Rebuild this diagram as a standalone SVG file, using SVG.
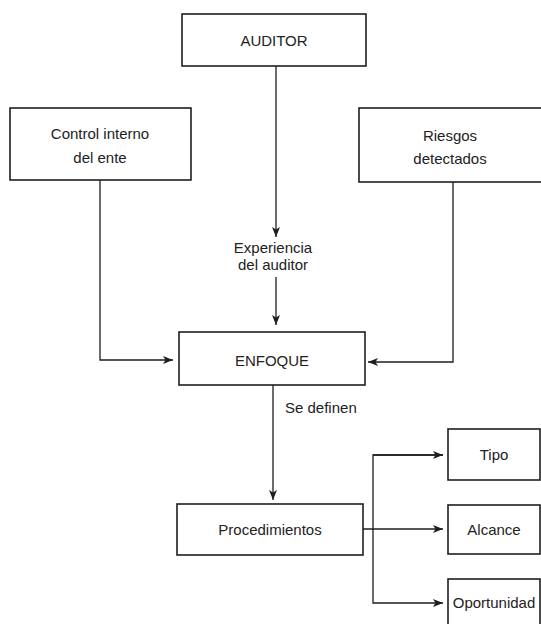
<svg xmlns="http://www.w3.org/2000/svg" width="541" height="624" viewBox="0 0 541 624">
<style>
.box{fill:#fff;stroke:#1e1e1e;stroke-width:1.6}
.t{font-family:"Liberation Sans",Arial,sans-serif;font-size:15px;fill:#222;text-anchor:middle}
.c{fill:none;stroke:#1e1e1e;stroke-width:1.3}
</style>
<defs>
<marker id="ah" markerUnits="userSpaceOnUse" markerWidth="10" markerHeight="8" refX="10" refY="4" orient="auto">
<path d="M0,0 L10,4 L0,8 L2.5,4 z" fill="#1e1e1e"/>
</marker>
</defs>
<rect width="541" height="624" fill="#fff"/>
<g id="connectors">
<path class="c" d="M276,66 V237" marker-end="url(#ah)"/>
<path class="c" d="M276,277 V325" marker-end="url(#ah)"/>
<path class="c" d="M100,180 V360 H173" marker-end="url(#ah)"/>
<path class="c" d="M453,182 V362 H368" marker-end="url(#ah)"/>
<path class="c" d="M273,385 V500" marker-end="url(#ah)"/>
<path class="c" d="M363,529 H443" marker-end="url(#ah)"/>
<path class="c" d="M443,455 H373 V603 H443" marker-end="url(#ah)"/>
<path class="c" d="M373,455 H443" marker-end="url(#ah)"/>
</g>
<g id="auditor">
<rect class="box" x="182" y="14" width="184" height="52"/>
<text class="t" x="274" y="46">AUDITOR</text>
</g>
<g id="control">
<rect class="box" x="10" y="108" width="181" height="72"/>
<text class="t" x="100" y="139">Control interno</text>
<text class="t" x="100" y="163">del ente</text>
</g>
<g id="riesgos">
<rect class="box" x="359" y="108" width="190" height="74"/>
<text class="t" x="450" y="141">Riesgos</text>
<text class="t" x="450" y="164">detectados</text>
</g>
<g id="experiencia">
<text class="t" x="273" y="253">Experiencia</text>
<text class="t" x="273" y="270">del auditor</text>
</g>
<g id="enfoque">
<rect class="box" x="179" y="332" width="186" height="53"/>
<text class="t" x="272" y="366">ENFOQUE</text>
</g>
<g id="se-definen">
<text class="t" x="285" y="413" style="text-anchor:start">Se definen</text>
</g>
<g id="procedimientos">
<rect class="box" x="177" y="504" width="186" height="51"/>
<text class="t" x="270" y="535">Procedimientos</text>
</g>
<g id="tipo">
<rect class="box" x="448" y="429" width="92" height="51"/>
<text class="t" x="494" y="460">Tipo</text>
</g>
<g id="alcance">
<rect class="box" x="448" y="505" width="92" height="49"/>
<text class="t" x="494" y="535">Alcance</text>
</g>
<g id="oportunidad">
<rect class="box" x="448" y="579" width="92" height="60"/>
<text class="t" x="494" y="608">Oportunidad</text>
</g>
</svg>
